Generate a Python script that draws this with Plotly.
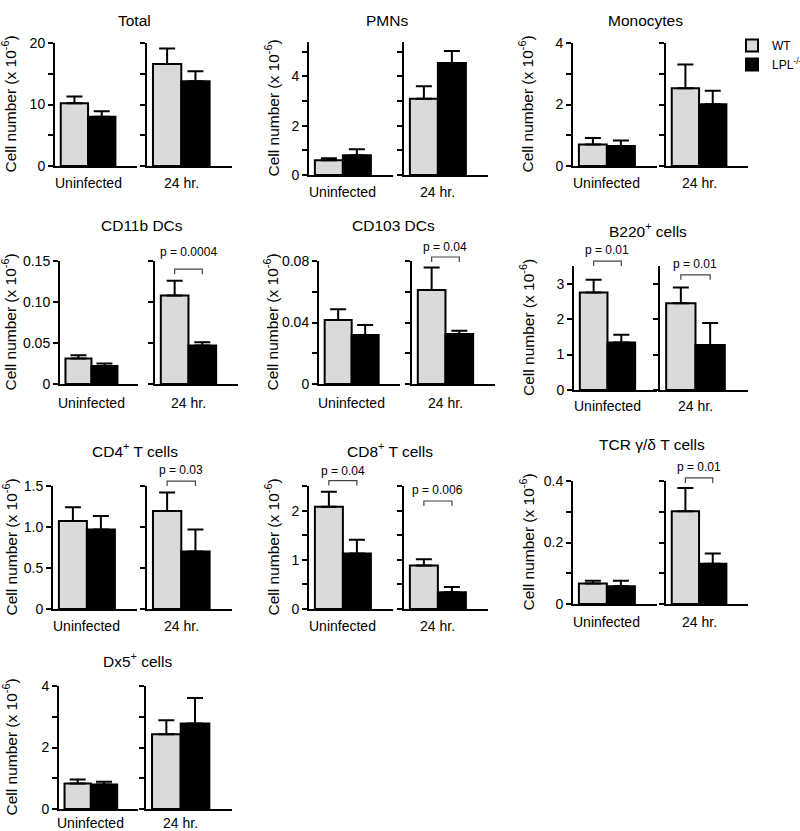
import plotly.graph_objects as go

W, H = 800, 831
FONT = "Liberation Sans, Arial, sans-serif"

# ---------------- data ----------------
groups = ["Uninfected", "24 hr."]
series = ["WT", "LPL<sup>-/-</sup>"]
panels = ["Total", "PMNs", "Monocytes", "CD11b DCs", "CD103 DCs",
          "B220<sup>+</sup> cells", "CD4<sup>+</sup> T cells",
          "CD8<sup>+</sup> T cells", "TCR γ/δ T cells", "Dx5<sup>+</sup> cells"]

wt_mean = [[10.2, 16.6], [0.6, 3.1], [0.70, 2.53], [0.031, 0.108], [0.0416, 0.0611],
           [2.75, 2.45], [1.074, 1.196], [2.08, 0.885], [0.067, 0.302], [0.83, 2.43]]
wt_err = [[1.1, 2.5], [0.08, 0.5], [0.21, 0.77], [0.004, 0.018], [0.007, 0.0146],
          [0.36, 0.44], [0.166, 0.224], [0.305, 0.125], [0.009, 0.075], [0.13, 0.46]]
lpl_mean = [[8.0, 13.8], [0.8, 4.55], [0.65, 2.01], [0.022, 0.047], [0.0319, 0.0325],
            [1.34, 1.27], [0.97, 0.70], [1.13, 0.34], [0.058, 0.131], [0.80, 2.78]]
lpl_err = [[0.9, 1.6], [0.25, 0.48], [0.18, 0.44], [0.003, 0.004], [0.0065, 0.0022],
           [0.22, 0.62], [0.165, 0.27], [0.275, 0.106], [0.018, 0.033], [0.09, 0.83]]

y_max = [20, 5.4, 4, 0.15, 0.08, 3.5, 1.5, 2.5, 0.4, 4]
y_ticks = [[0, 5, 10, 15, 20], [0, 1, 2, 3, 4, 5], [0, 1, 2, 3, 4], [0, 0.05, 0.10, 0.15],
           [0, 0.02, 0.04, 0.06, 0.08], [0, 1, 2, 3], [0, 0.5, 1.0, 1.5],
           [0, 0.5, 1, 1.5, 2, 2.5], [0, 0.1, 0.2, 0.3, 0.4], [0, 1, 2, 3, 4]]
y_ticktext = [["0", "", "10", "", "20"], ["0", "", "2", "", "4", ""], ["0", "", "2", "", "4"],
              ["0", "0.05", "0.10", "0.15"], ["0", "", "0.04", "", "0.08"], ["0", "1", "2", "3"],
              ["0", "0.5", "1.0", "1.5"], ["0", "", "1", "", "2", ""], ["0", "", "0.2", "", "0.4"],
              ["0", "", "2", "", "4"]]

p_panel = [3, 4, 5, 5, 6, 7, 7, 8]
p_group = [1, 1, 0, 1, 1, 0, 1, 1]
p_text = ["p = 0.0004", "p = 0.04", "p = 0.01", "p = 0.01", "p = 0.03",
          "p = 0.04", "p = 0.006", "p = 0.01"]
p_level = [0.140, 0.0826, 3.64, 3.25, 1.56, 2.61, 2.195, 0.41]

# ---------------- layout geometry (pixels) ----------------
# left sub x0, x1, right sub x0, x1, y of zero line, y of axis top, title x, title y,
# offset of group labels below zero line
geom = [
    (55, 137, 147, 232, 166, 43, 134, 20, 17),
    (309, 393, 404, 488, 175, 42, 387, 20, 17),
    (573, 657, 666, 748, 166, 43, 645, 20, 17),
    (60, 138, 155, 238, 384, 261, 142, 225, 19),
    (319, 400, 412, 495, 384, 261, 393, 225, 19),
    (574, 657, 660, 748, 390, 266, 648, 230, 16),
    (53, 137, 147, 232, 609, 486, 135, 450, 17),
    (309, 393, 404, 488, 609, 486, 390, 450, 17),
    (573, 657, 666, 748, 604, 481, 652, 444, 18),
    (59, 138, 146, 232, 809, 686, 137, 660, 14),
]
ytitle_x = [10, 272, 527]
p_offset = [17, 10, 11, 11, 11, 10, 11, 11]
XR = [-0.71, 2.29]
BAR_X = [0, 1]


def px(x):
    return x / W


def py(y):
    return 1 - y / H


fig = go.Figure()
layout = dict(
    template="none",
    width=W, height=H, margin=dict(l=0, r=0, t=0, b=0, pad=0, autoexpand=False),
    paper_bgcolor="white", plot_bgcolor="white", barmode="overlay",
    font=dict(family=FONT, color="black"),
    showlegend=True,
    legend=dict(x=px(732), y=py(31), xanchor="left", yanchor="top",
                font=dict(size=12, family=FONT, color="black"),
                bgcolor="rgba(0,0,0,0)", borderwidth=0, tracegroupgap=0, itemwidth=30),
)
annotations = []
shapes = []

for i, name in enumerate(panels):
    lx0, lx1, rx0, rx1, yz, yt, tx, ty, lo = geom[i]
    col = i % 3 if i < 9 else 0
    for g in range(2):
        k = 2 * i + g + 1
        xa = "x" if k == 1 else f"x{k}"
        ya = "y" if k == 1 else f"y{k}"
        xkey = "xaxis" if k == 1 else f"xaxis{k}"
        ykey = "yaxis" if k == 1 else f"yaxis{k}"
        x0, x1 = (lx0, lx1) if g == 0 else (rx0, rx1)
        layout[xkey] = dict(domain=[px(x0), px(x1)], range=XR, anchor=ya,
                            showline=True, linewidth=2, linecolor="black",
                            showticklabels=False, ticks="", showgrid=False,
                            zeroline=False, fixedrange=True, automargin=False)
        layout[ykey] = dict(domain=[py(yz), py(yt)], range=[0, y_max[i]], anchor=xa,
                            showline=True, linewidth=2, linecolor="black",
                            ticks="outside", ticklen=5, tickwidth=2, tickcolor="black",
                            tickvals=y_ticks[i], ticktext=y_ticktext[i],
                            showticklabels=(g == 0), showgrid=False, zeroline=False,
                            tickfont=dict(size=14, family=FONT, color="black"),
                            fixedrange=True, automargin=False)
        for s, (means, errs, color) in enumerate([(wt_mean, wt_err, "#dadada"),
                                                  (lpl_mean, lpl_err, "black")]):
            fig.add_trace(go.Bar(
                x=[BAR_X[s]], y=[means[i][g]], width=1,
                xaxis=xa, yaxis=ya, name=series[s], legendgroup=series[s],
                showlegend=(k == 1),
                marker=dict(color=color, line=dict(color="black", width=2)),
                error_y=dict(type="data", symmetric=False, array=[errs[i][g]],
                             arrayminus=[0], color="black", thickness=2, width=8),
            ))
        annotations.append(dict(
            x=0.5, xref=xa, y=py(yz + lo), yref="paper", text=groups[g],
            showarrow=False, xanchor="center", yanchor="middle",
            font=dict(size=14, family=FONT, color="black")))
    # panel title
    annotations.append(dict(x=px(tx), y=py(ty), xref="paper", yref="paper", text=name,
                            showarrow=False, xanchor="center", yanchor="middle",
                            font=dict(size=15.5, family=FONT, color="black")))
    # y-axis title
    annotations.append(dict(x=px(ytitle_x[col]), y=py((yz + yt) / 2), xref="paper",
                            yref="paper", text="Cell number (x 10<sup>-6</sup>)",
                            textangle=-90, showarrow=False, xanchor="center",
                            yanchor="middle",
                            font=dict(size=15.5, family=FONT, color="black")))

# significance brackets
for j in range(len(p_text)):
    i = p_panel[j]
    g = p_group[j]
    lx0, lx1, rx0, rx1, yz, yt, tx, ty, lo = geom[i]
    x0, x1 = (lx0, lx1) if g == 0 else (rx0, rx1)
    span = XR[1] - XR[0]
    xa_px = x0 + (BAR_X[0] - XR[0]) / span * (x1 - x0)
    xb_px = x0 + (BAR_X[1] - XR[0]) / span * (x1 - x0)
    lev_px = yz - p_level[j] / y_max[i] * (yz - yt)
    shapes.append(dict(
        type="path", xref="paper", yref="paper",
        path=(f"M {px(xa_px)},{py(lev_px + 5)} L {px(xa_px)},{py(lev_px)} "
              f"L {px(xb_px)},{py(lev_px)} L {px(xb_px)},{py(lev_px + 5)}"),
        line=dict(color="#444444", width=1.2)))
    annotations.append(dict(
        x=px((xa_px + xb_px) / 2), y=py(lev_px - p_offset[j]), xref="paper", yref="paper",
        text=p_text[j], showarrow=False, xanchor="center", yanchor="middle",
        font=dict(size=12, family=FONT, color="black")))

layout["annotations"] = annotations
layout["shapes"] = shapes
fig.update_layout(**layout)
fig.write_html("out.html", config={"displayModeBar": False},
               post_script="document.body.style.margin='0';document.body.style.overflow='hidden';")
